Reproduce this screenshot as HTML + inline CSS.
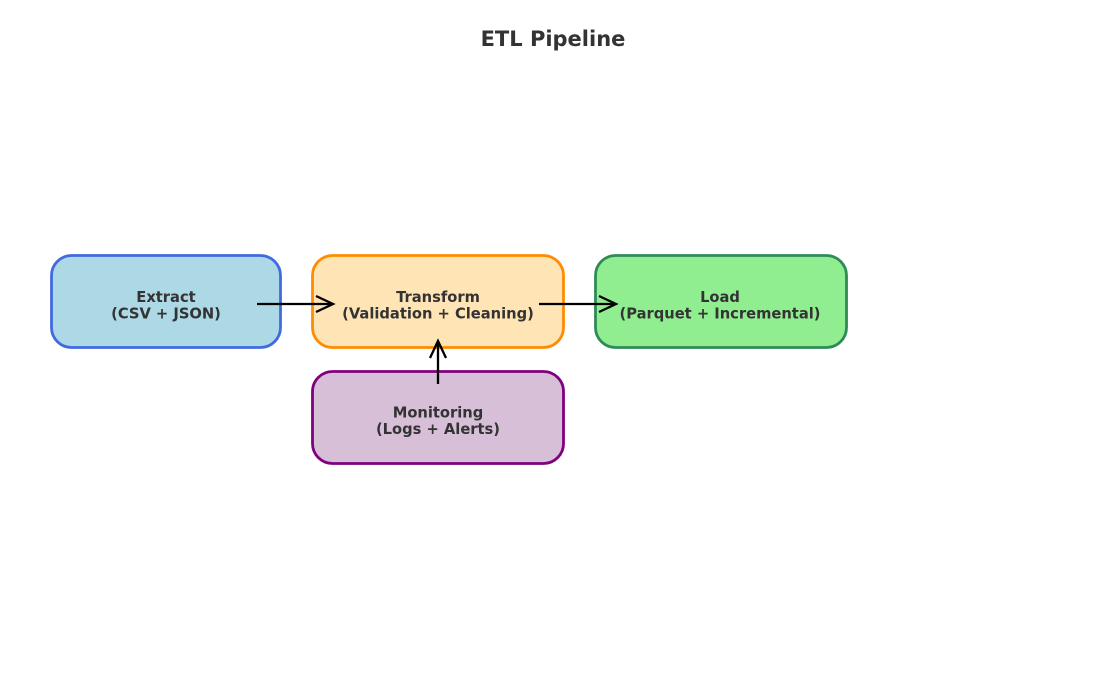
<!DOCTYPE html>
<html><head><style>body{margin:0;background:#fff}</style></head><body>
<svg width="1106" height="678" viewBox="0 0 1106 678" xmlns="http://www.w3.org/2000/svg" font-family="'DejaVu Sans','Liberation Sans',sans-serif" font-weight="bold">
<rect width="1106" height="678" fill="#fff"/>
<text x="553" y="46" text-anchor="middle" font-size="21" fill="#333">ETL Pipeline</text>
<g stroke-width="2.8">
<rect x="51.5" y="255.5" width="229" height="92" rx="20" fill="#add8e6" stroke="#4169e1"/>
<rect x="312.5" y="255.5" width="251" height="92" rx="20" fill="#ffe4b5" stroke="#ff8c00"/>
<rect x="595.5" y="255.5" width="251" height="92" rx="20" fill="#90ee90" stroke="#2e8b57"/>
<rect x="312.5" y="371.5" width="251" height="92" rx="20" fill="#d8bfd8" stroke="#800080"/>
</g>
<g font-size="14.7" fill="#333" text-anchor="middle">
<text x="166" y="302">Extract</text><text x="166" y="318.5">(CSV + JSON)</text>
<text x="438" y="302">Transform</text><text x="438" y="318.5">(Validation + Cleaning)</text>
<text x="720" y="302">Load</text><text x="720" y="318.5">(Parquet + Incremental)</text>
<text x="438" y="417.5">Monitoring</text><text x="438" y="434">(Logs + Alerts)</text>
</g>
<g stroke="#000" stroke-width="2.3" fill="none">
<path d="M257 304H333M316 296L333 304L316 312"/>
<path d="M539 304H616M599 296L616 304L599 312"/>
<path d="M438 384V341M430 358L438 341L446 358"/>
</g>
</svg>
</body></html>
